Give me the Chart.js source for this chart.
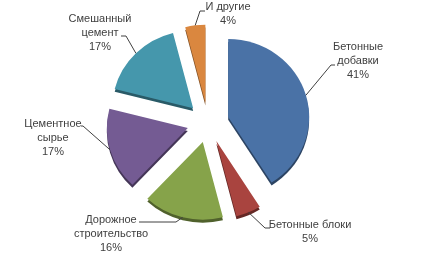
<!DOCTYPE html>
<html><head><meta charset="utf-8">
<script src="https://cdn.jsdelivr.net/npm/chart.js@4.4.1/dist/chart.umd.min.js"></script>
<style>html,body{margin:0;padding:0;background:#fff}#wrap{width:421px;height:254px}</style>
</head><body><div id="wrap"><canvas id="c"></canvas></div>
<script>
// ---- data ----
const categories = ["Бетонные добавки","Бетонные блоки","Дорожное строительство","Цементное сырье","Смешанный цемент","И другие"];
const shares = [41,5,16,17,17,4];
const wrapName = [true,false,true,true,true,false];

// ---- style / layout ----
const colors = ['#4A72A6','#A9443F','#86A34A','#745B93','#4597AC','#DA873F'];
const explode = 21;      // px outward shift of every slice
const depth = 3;         // 3D side thickness
const ratioY = 0.96;     // slight tilt
// label block: centre x, first-line centre y, elbow point, end point of leader
const labelLayout = [
  {x:358, y:47,  elbow:[331,65],  end:[335,65]},
  {x:310, y:225, elbow:[265,228], end:[270,228]},
  {x:111, y:220, elbow:[176,222], end:[139,222]},
  {x:53,  y:124, elbow:[83,126],  end:[81,126]},
  {x:100, y:19,  elbow:[126,36],  end:[121,36]},
  {x:228, y:7,   elbow:[200,11],  end:[205,11]}
];

function shift(el){
  const mid = (el.startAngle + el.endAngle)/2;
  return [Math.cos(mid)*explode, Math.sin(mid)*explode];
}

const piePlugin = {
  id:'pie3d',
  beforeDatasetDraw(chart, args){
    const ctx = chart.ctx, meta = args.meta;
    const cy = meta.data[0].y;
    ctx.save();
    ctx.translate(0, cy); ctx.scale(1, ratioY); ctx.translate(0, -cy);
    meta.data.forEach(el => {
      const [dx,dy] = shift(el);
      ctx.save(); ctx.filter = 'brightness(0.6)';
      ctx.translate(dx, dy + depth); el.draw(ctx); ctx.restore();
    });
    meta.data.forEach(el => {
      const [dx,dy] = shift(el);
      ctx.save(); ctx.translate(dx, dy); el.draw(ctx); ctx.restore();
    });
    ctx.restore();
    return false;
  },
  afterDatasetsDraw(chart){
    const ctx = chart.ctx, meta = chart.getDatasetMeta(0);
    const total = shares.reduce((a,b)=>a+b,0);
    ctx.save();
    ctx.strokeStyle = '#404040'; ctx.lineWidth = 1;
    ctx.fillStyle = '#404040';
    ctx.font = '11px "Liberation Sans", Arial, sans-serif';
    ctx.textAlign = 'center'; ctx.textBaseline = 'middle';
    meta.data.forEach((el,i) => {
      const mid = (el.startAngle + el.endAngle)/2;
      const [dx,dy] = shift(el);
      const px = el.x + dx + Math.cos(mid)*el.outerRadius;
      const pyRaw = el.y + dy + Math.sin(mid)*el.outerRadius;
      const py = el.y + (pyRaw - el.y)*ratioY;
      const L = labelLayout[i];
      ctx.beginPath();
      ctx.moveTo(px, py); ctx.lineTo(L.elbow[0], L.elbow[1]); ctx.lineTo(L.end[0], L.end[1]);
      ctx.stroke();
      const lines = wrapName[i] ? categories[i].split(' ') : [categories[i]];
      lines.push(Math.round(shares[i]/total*100) + '%');
      lines.forEach((t,k) => ctx.fillText(t, L.x, L.y + k*14));
    });
    ctx.restore();
  }
};

new Chart(document.getElementById('c'), {
  type:'pie',
  data:{ labels: categories, datasets:[{ data: shares, backgroundColor: colors, borderWidth:0, clip:false }]},
  options:{
    responsive:true, maintainAspectRatio:false, animation:false,
    radius: 81,
    layout:{ padding:{left:0,right:5,top:0,bottom:9} },
    plugins:{ legend:{display:false}, tooltip:{enabled:false} }
  },
  plugins:[piePlugin]
});
</script></body></html>
